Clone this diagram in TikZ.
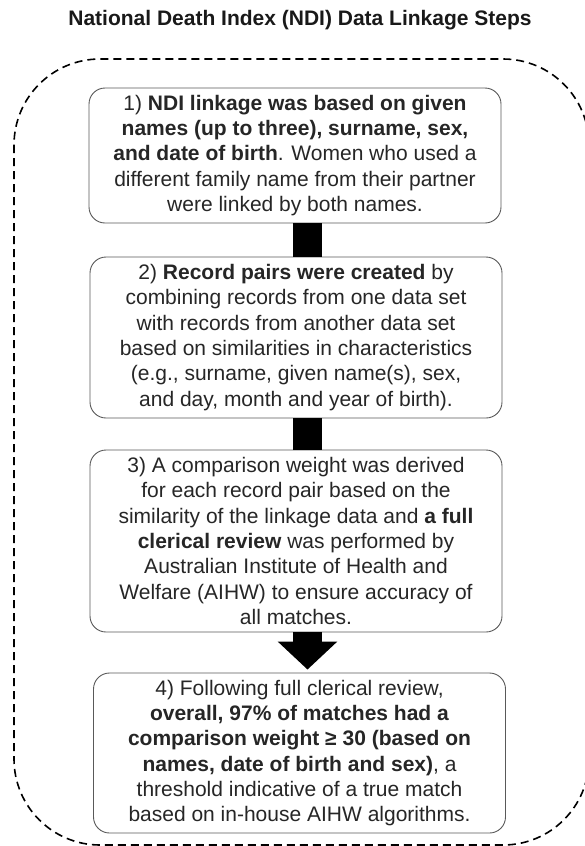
\documentclass[tikz,border=0pt]{standalone}
\usepackage{fontspec}
\setmainfont{Liberation Sans}
\usetikzlibrary{arrows.meta,calc}
\begin{document}
\begin{tikzpicture}[x=1pt,y=-1pt,
  stepbox/.style={draw=black!65, line width=0.9pt, rounded corners=16pt, fill=white,
    align=center, font=\fontsize{21}{25.3}\selectfont, inner sep=0pt,
    minimum width=412pt, text=black!85},
  outline/.style={draw=black, line width=1.6pt, dash pattern=on 8pt off 5pt, rounded corners=86pt},
  link/.style={draw=black, line width=29pt, line cap=butt},
  blockarrow/.style={draw=black, line width=29pt, line cap=butt,
    -{Triangle[width=58pt,length=28pt]}},
  titlestyle/.style={font=\bfseries\fontsize{21}{25}\selectfont, text=black!90}
]
\useasboundingbox (0,0) rectangle (585,846);
\clip (0,0) rectangle (585,846);
\draw[outline] (14,59) rectangle (589,845);

\node[titlestyle] (title) at (300,20) {National Death Index (NDI) Data Linkage Steps};

\node[stepbox, minimum height=135pt] (b1) at (295,155.5) {1) \textbf{NDI linkage was based on given}\\
\textbf{names (up to three), surname, sex,}\\
\textbf{and date of birth}. Women who used a\\
different family name from their partner\\
were linked by both names.};

\node[stepbox, minimum height=161pt] (b2) at (296,337.5) {2) \textbf{Record pairs were created} by\\
combining records from one data set\\
with records from another data set\\
based on similarities in characteristics\\
(e.g., surname, given name(s), sex,\\
and day, month and year of birth).};

\node[stepbox, minimum height=182pt] (b3) at (296,541) {3) A comparison weight was derived\\
for each record pair based on the\\
similarity of the linkage data and \textbf{a full}\\
\textbf{clerical review} was performed by\\
Australian Institute of Health and\\
Welfare (AIHW) to ensure accuracy of\\
all matches.};

\node[stepbox, minimum height=160pt] (b4) at (299.5,753) {4) Following full clerical review,\\
\textbf{overall, 97\% of matches had a}\\
\textbf{comparison weight ≥ 30 (based on}\\
\textbf{names, date of birth and sex)}, a\\
threshold indicative of a true match\\
based on in-house AIHW algorithms.};

\draw[link] ($(b1.south)+(12.5,0)$) -- ($(b2.north)+(11.5,0)$);
\draw[link] ($(b2.south)+(11.5,0)$) -- ($(b3.north)+(11.5,0)$);
\draw[blockarrow] ($(b3.south)+(11.5,0)$) -- ($(b4.north)+(8,-3)$);
\end{tikzpicture}
\end{document}
